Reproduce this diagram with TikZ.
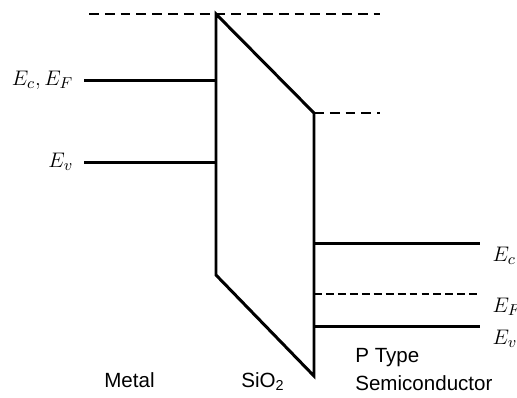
\documentclass[tikz,border=0pt]{standalone}
\usepackage{fontspec}
\setsansfont{Liberation Sans}
\usetikzlibrary{positioning}
\tikzset{
  zona/.style    = {line width=1.7pt},
  vakuum/.style  = {line width=1.1pt, dash pattern=on 5.6pt off 3.4pt},
  fermi/.style   = {line width=0.9pt, dash pattern=on 4.5pt off 2.3pt},
  nivolab/.style = {font=\fontsize{12.5}{15}\selectfont, inner sep=0pt},
  oblast/.style  = {font=\sffamily\fontsize{11.7}{14}\selectfont, inner sep=0pt,
                    anchor=base west},
}

\begin{document}
\begin{tikzpicture}[x=0.02cm, y=-0.02cm]
  \useasboundingbox (0,0) rectangle (517,397);

  % oksid
  \coordinate (oxTL) at (216,14);
  \coordinate (oxTR) at (314,113);
  \coordinate (oxBR) at (314,376);
  \coordinate (oxBL) at (216,275);
  \draw[zona] (oxTL) -- (oxTR) -- (oxBR) -- (oxBL) -- cycle;

  % vakuumski nivo
  \coordinate (vakL) at (89,14);
  \coordinate (vakR) at (380,14);
  \coordinate (vakS) at (380,113);
  \draw[vakuum] (vakL) -- (vakR);
  \draw[vakuum] (oxTR) -- (vakS);

  % metal
  \coordinate (mEc) at (84,80);
  \coordinate (mEv) at (84,162);
  \node[nivolab, left=6pt of mEc] (lmEc) {$E_c, E_F$};
  \node[nivolab, left=6pt of mEv] (lmEv) {$E_v$};
  \draw[zona] (mEc) -- (mEc -| oxTL);
  \draw[zona] (mEv) -- (mEv -| oxTL);

  % poluprovodnik
  \coordinate (sEc) at (480,243);
  \coordinate (sEf) at (480,294);
  \coordinate (sEv) at (480,326);
  \draw[zona]  (sEc -| oxTR) -- (sEc);
  \draw[fermi] (sEf -| oxTR) -- (sEf);
  \draw[zona]  (sEv -| oxTR) -- (sEv);
  \node[nivolab, below right=2pt and 7pt of sEc] (lsEc) {$E_c$};
  \node[nivolab, below right=2pt and 7pt of sEf] (lsEf) {$E_F$};
  \node[nivolab, below right=2pt and 7pt of sEv] (lsEv) {$E_v$};

  % oblasti
  \node[oblast] (metal) at (104,387) {Metal};
  \node[oblast] (oksid) at (241,387) {SiO\textsubscript{2}};
  \node[oblast] (ptip)  at (355,362) {P Type};
  \node[oblast] (poluv) at ([yshift=-16.4pt]ptip.base west) {Semiconductor};
\end{tikzpicture}
\end{document}
